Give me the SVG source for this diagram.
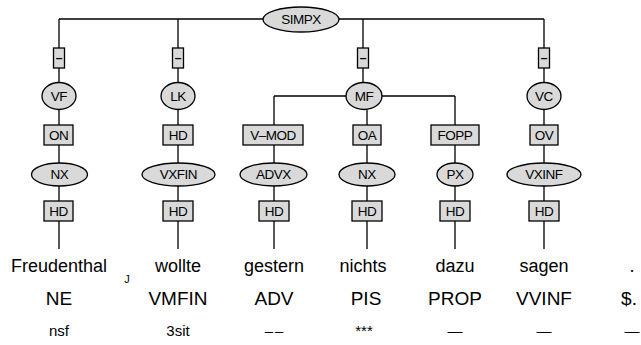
<svg xmlns="http://www.w3.org/2000/svg" width="641" height="345" viewBox="0 0 641 345">
<style>
.e{fill:#d9d9d9;stroke:#000;stroke-width:1.3}
.b{fill:#d9d9d9;stroke:#000;stroke-width:1.3}
.l{fill:none;stroke:#000;stroke-width:1.3}
.t{font-family:"Liberation Sans",Arial,sans-serif;font-size:13.5px;text-anchor:middle;letter-spacing:-0.5px}
.d{font-family:"Liberation Sans",Arial,sans-serif;font-size:12px;font-weight:bold;text-anchor:middle}
.w{font-family:"Liberation Sans",Arial,sans-serif;font-size:18px;text-anchor:middle}
.p{font-family:"Liberation Sans",Arial,sans-serif;font-size:19px;text-anchor:middle}
.m{font-family:"Liberation Sans",Arial,sans-serif;font-size:15px;text-anchor:middle}
</style>
<g id="connectors">
<path class="l" d="M59 19H544M59 19V48M178 19V48M363 19V48M544 19V48"/>
<path class="l" d="M59 68V82.5M178 68V82.5M363 68V82.5M544 68V82.5"/>
<path class="l" d="M59 109.5V125M178 109.5V125M544 109.5V125M274 96H455M274 96V125M455 96V125M367 109.5V125"/>
<path class="l" d="M59 145V163M178 145V163M274 145V163M367 145V163M455 145V163M544 145V163"/>
<path class="l" d="M59 186V201M178 186V201M274 186V201M367 186V201M455 186V201M544 186V201"/>
<path class="l" d="M59 221V249M178 221V249M274 221V249M367 221V249M455 221V249M544 221V249"/>
</g>
<g id="SIMPX"><ellipse class="e" cx="301" cy="19.5" rx="38" ry="12.5"/><text class="t" x="301" y="24.2">SIMPX</text></g>
<g id="dash1"><rect class="b" x="53.5" y="48" width="11" height="20"/><text class="d" x="59" y="62">–</text></g>
<g id="dash2"><rect class="b" x="172.5" y="48" width="11" height="20"/><text class="d" x="178" y="62">–</text></g>
<g id="dash3"><rect class="b" x="357.5" y="48" width="11" height="20"/><text class="d" x="363" y="62">–</text></g>
<g id="dash4"><rect class="b" x="538.5" y="48" width="11" height="20"/><text class="d" x="544" y="62">–</text></g>
<g id="VF"><ellipse class="e" cx="59" cy="96" rx="17" ry="13.5"/><text class="t" x="59" y="100.8">VF</text></g>
<g id="LK"><ellipse class="e" cx="178" cy="96" rx="17" ry="13.5"/><text class="t" x="178" y="100.8">LK</text></g>
<g id="MF"><ellipse class="e" cx="364" cy="96" rx="18" ry="13.5"/><text class="t" x="364" y="100.8">MF</text></g>
<g id="VC"><ellipse class="e" cx="544" cy="96" rx="17" ry="13.5"/><text class="t" x="544" y="100.8">VC</text></g>
<g id="ON"><rect class="b" x="44" y="125" width="29" height="20"/><text class="t" x="58.5" y="139.8">ON</text></g>
<g id="HD1"><rect class="b" x="163" y="125" width="30" height="20"/><text class="t" x="178" y="139.8">HD</text></g>
<g id="VMOD"><rect class="b" x="243" y="125" width="60" height="20"/><text class="t" x="273" y="139.8">V–MOD</text></g>
<g id="OA"><rect class="b" x="353" y="125" width="28" height="20"/><text class="t" x="367" y="139.8">OA</text></g>
<g id="FOPP"><rect class="b" x="431" y="125" width="48" height="20"/><text class="t" x="455" y="139.8">FOPP</text></g>
<g id="OV"><rect class="b" x="530" y="125" width="28" height="20"/><text class="t" x="544" y="139.8">OV</text></g>
<g id="NX1"><ellipse class="e" cx="59.5" cy="174.5" rx="28" ry="11.5"/><text class="t" x="59.5" y="179.3">NX</text></g>
<g id="VXFIN"><ellipse class="e" cx="178.5" cy="174.5" rx="36.5" ry="11.5"/><text class="t" x="178.5" y="179.3">VXFIN</text></g>
<g id="ADVX"><ellipse class="e" cx="273.5" cy="174.5" rx="33.5" ry="11.5"/><text class="t" x="273.5" y="179.3">ADVX</text></g>
<g id="NX2"><ellipse class="e" cx="367" cy="174.5" rx="28" ry="11.5"/><text class="t" x="367" y="179.3">NX</text></g>
<g id="PX"><ellipse class="e" cx="455" cy="174.5" rx="18" ry="11.5"/><text class="t" x="455" y="179.3">PX</text></g>
<g id="VXINF"><ellipse class="e" cx="544" cy="174.5" rx="37" ry="11.5"/><text class="t" x="544" y="179.3">VXINF</text></g>
<g id="HD2"><rect class="b" x="44" y="201" width="29" height="20"/><text class="t" x="58.5" y="215.8">HD</text></g>
<g id="HD3"><rect class="b" x="163" y="201" width="30" height="20"/><text class="t" x="178" y="215.8">HD</text></g>
<g id="HD4"><rect class="b" x="259" y="201" width="30" height="20"/><text class="t" x="274" y="215.8">HD</text></g>
<g id="HD5"><rect class="b" x="352" y="201" width="30" height="20"/><text class="t" x="367" y="215.8">HD</text></g>
<g id="HD6"><rect class="b" x="440" y="201" width="30" height="20"/><text class="t" x="455" y="215.8">HD</text></g>
<g id="HD7"><rect class="b" x="529" y="201" width="30" height="20"/><text class="t" x="544" y="215.8">HD</text></g>
<g id="words">
<text class="w" x="59" y="272">Freudenthal</text>
<text class="w" x="178" y="272">wollte</text>
<text class="w" x="274" y="272">gestern</text>
<text class="w" x="363" y="272">nichts</text>
<text class="w" x="455" y="272">dazu</text>
<text class="w" x="544" y="272">sagen</text>
<text class="w" x="632" y="272">.</text>
<text class="p" x="59" y="305">NE</text>
<text class="p" x="178" y="305">VMFIN</text>
<text class="p" x="274" y="305">ADV</text>
<text class="p" x="366" y="305">PIS</text>
<text class="p" x="455" y="305">PROP</text>
<text class="p" x="544" y="305">VVINF</text>
<text class="p" x="629" y="305">$.</text>
<text class="m" x="59" y="336">nsf</text>
<text class="m" x="178" y="336">3sit</text>
<text class="m" x="275" y="336" letter-spacing="2">––</text>
<text class="m" x="364" y="336">***</text>
<text class="m" x="455" y="336">—</text>
<text class="m" x="544" y="336">—</text>
<text class="m" x="632" y="336">—</text>
<text font-family="Liberation Sans, Arial, sans-serif" font-size="11" text-anchor="middle" x="127" y="283">J</text>
</g>
</svg>
